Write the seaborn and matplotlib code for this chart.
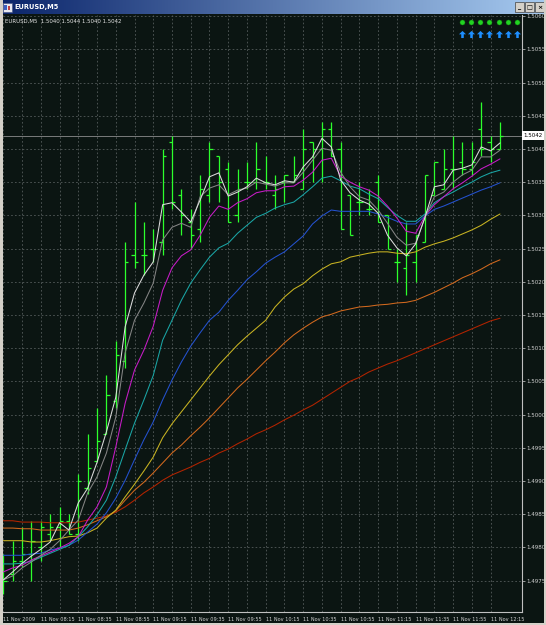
import numpy as np
import pandas as pd
import matplotlib.pyplot as plt
import seaborn as sns
from matplotlib.patches import Rectangle
from matplotlib.path import Path
from matplotlib.colors import LinearSegmentedColormap
import matplotlib.transforms as mtransforms

# EURUSD M5 bars, 07:55 .. 12:20 on 11 Nov 2009 (first bar is cut by the left edge)
times = pd.date_range("2009-11-11 07:55", periods=54, freq="5min")

bar_open = [1.4974, 1.4976, 1.4978, 1.4979, 1.4980, 1.4982, 1.4983, 1.4984, 1.4982, 1.4989,
            1.4993, 1.4997, 1.5002, 1.5008, 1.5024, 1.5024, 1.5025, 1.5026, 1.5041, 1.5033,
            1.5029, 1.5028, 1.5033, 1.5039, 1.5037, 1.5030, 1.5035, 1.5035, 1.5035, 1.5033,
            1.5035, 1.5035, 1.5034, 1.5041, 1.5040, 1.5043, 1.5040, 1.5033, 1.5032, 1.5031,
            1.5035, 1.5030, 1.5023, 1.5022, 1.5023, 1.5026, 1.5033, 1.5034, 1.5037, 1.5038,
            1.5037, 1.5043, 1.5041, 1.5040]
bar_high = [1.4979, 1.4981, 1.4983, 1.4984, 1.4984, 1.4985, 1.4986, 1.4985, 1.4991, 1.4997,
            1.5001, 1.5006, 1.5011, 1.5026, 1.5032, 1.5029, 1.5028, 1.5040, 1.5042, 1.5034,
            1.5031, 1.5036, 1.5041, 1.5039, 1.5038, 1.5037, 1.5038, 1.5041, 1.5039, 1.5036,
            1.5036, 1.5039, 1.5043, 1.5041, 1.5044, 1.5044, 1.5041, 1.5033, 1.5035, 1.5034,
            1.5036, 1.5030, 1.5025, 1.5029, 1.5027, 1.5036, 1.5038, 1.5040, 1.5042, 1.5041,
            1.5041, 1.5047, 1.5042, 1.5044]
bar_low = [1.4973, 1.4975, 1.4977, 1.4975, 1.4978, 1.4981, 1.4980, 1.4982, 1.4981, 1.4988,
           1.4993, 1.4997, 1.5001, 1.5007, 1.5022, 1.5021, 1.5023, 1.5024, 1.5031, 1.5027,
           1.5025, 1.5026, 1.5032, 1.5032, 1.5029, 1.5029, 1.5034, 1.5034, 1.5034, 1.5031,
           1.5032, 1.5035, 1.5034, 1.5035, 1.5035, 1.5039, 1.5028, 1.5027, 1.5030, 1.5030,
           1.5029, 1.5025, 1.5020, 1.5018, 1.5020, 1.5026, 1.5033, 1.5034, 1.5034, 1.5036,
           1.5036, 1.5039, 1.5038, 1.5040]
bar_close = [1.4975, 1.4978, 1.4979, 1.4981, 1.4983, 1.4983, 1.4984, 1.4982, 1.4990, 1.4992,
             1.4996, 1.5003, 1.5009, 1.5023, 1.5023, 1.5024, 1.5025, 1.5039, 1.5032, 1.5030,
             1.5027, 1.5034, 1.5040, 1.5035, 1.5029, 1.5034, 1.5035, 1.5037, 1.5035, 1.5034,
             1.5036, 1.5036, 1.5040, 1.5040, 1.5043, 1.5039, 1.5028, 1.5027, 1.5032, 1.5031,
             1.5029, 1.5025, 1.5023, 1.5024, 1.5027, 1.5036, 1.5038, 1.5037, 1.5037, 1.5037,
             1.5038, 1.5040, 1.5040, 1.5042]

# moving averages as drawn on the chart
ma_white = [1.49751, 1.49763, 1.49776, 1.49787, 1.49797, 1.49808, 1.49837, 1.49826, 1.49867, 1.49889,
            1.49928, 1.49974, 1.50026, 1.50132, 1.50183, 1.50210, 1.50230, 1.50316, 1.50319, 1.50305,
            1.50290, 1.50323, 1.50358, 1.50364, 1.50329, 1.50335, 1.50343, 1.50356, 1.50349, 1.50346,
            1.50352, 1.50350, 1.50373, 1.50388, 1.50416, 1.50403, 1.50353, 1.50334, 1.50323, 1.50317,
            1.50303, 1.50270, 1.50251, 1.50239, 1.50257, 1.50297, 1.50343, 1.50346, 1.50368, 1.50371,
            1.50376, 1.50403, 1.50397, 1.50409]
ma_gray = [1.49751, 1.49757, 1.49769, 1.49778, 1.49788, 1.49797, 1.49810, 1.49826, 1.49841, 1.49882,
           1.49906, 1.49942, 1.49996, 1.50093, 1.50142, 1.50168, 1.50198, 1.50263, 1.50282, 1.50288,
           1.50282, 1.50328, 1.50341, 1.50346, 1.50331, 1.50338, 1.50341, 1.50350, 1.50347, 1.50344,
           1.50349, 1.50349, 1.50365, 1.50383, 1.50401, 1.50398, 1.50365, 1.50343, 1.50328, 1.50323,
           1.50308, 1.50288, 1.50267, 1.50255, 1.50258, 1.50297, 1.50328, 1.50335, 1.50350, 1.50361,
           1.50368, 1.50388, 1.50388, 1.50398]
ma_magenta = [1.49763, 1.49769, 1.49773, 1.49781, 1.49787, 1.49793, 1.49799, 1.49806, 1.49816, 1.49841,
              1.49861, 1.49891, 1.49951, 1.50017, 1.50067, 1.50097, 1.50133, 1.50187, 1.50221, 1.50239,
              1.50248, 1.50270, 1.50297, 1.50314, 1.50309, 1.50319, 1.50325, 1.50334, 1.50337, 1.50337,
              1.50343, 1.50344, 1.50353, 1.50365, 1.50383, 1.50386, 1.50359, 1.50350, 1.50343, 1.50338,
              1.50329, 1.50314, 1.50296, 1.50276, 1.50273, 1.50299, 1.50316, 1.50328, 1.50340, 1.50349,
              1.50359, 1.50370, 1.50377, 1.50385]
ma_cyan = [1.49775, 1.49775, 1.49776, 1.49779, 1.49785, 1.49791, 1.49797, 1.49803, 1.49816, 1.49831,
           1.49849, 1.49871, 1.49906, 1.49947, 1.49987, 1.50022, 1.50059, 1.50112, 1.50142, 1.50172,
           1.50198, 1.50218, 1.50237, 1.50251, 1.50258, 1.50273, 1.50285, 1.50297, 1.50303, 1.50311,
           1.50316, 1.50320, 1.50331, 1.50343, 1.50356, 1.50359, 1.50352, 1.50344, 1.50340, 1.50332,
           1.50325, 1.50312, 1.50300, 1.50291, 1.50291, 1.50302, 1.50319, 1.50328, 1.50335, 1.50343,
           1.50350, 1.50358, 1.50364, 1.50368]
ma_blue = [1.49788, 1.49788, 1.49788, 1.49790, 1.49791, 1.49796, 1.49799, 1.49803, 1.49811, 1.49823,
           1.49835, 1.49852, 1.49874, 1.49901, 1.49932, 1.49962, 1.49989, 1.50022, 1.50052, 1.50079,
           1.50103, 1.50123, 1.50142, 1.50154, 1.50172, 1.50187, 1.50203, 1.50215, 1.50228, 1.50237,
           1.50245, 1.50257, 1.50269, 1.50287, 1.50299, 1.50308, 1.50306, 1.50306, 1.50306, 1.50306,
           1.50302, 1.50297, 1.50291, 1.50287, 1.50287, 1.50299, 1.50309, 1.50314, 1.50320, 1.50326,
           1.50332, 1.50338, 1.50343, 1.50349]
ma_yellow = [1.49810, 1.49810, 1.49810, 1.49808, 1.49808, 1.49810, 1.49813, 1.49816, 1.49817, 1.49822,
             1.49829, 1.49844, 1.49856, 1.49876, 1.49895, 1.49915, 1.49936, 1.49965, 1.49986, 1.50004,
             1.50022, 1.50040, 1.50058, 1.50075, 1.50090, 1.50105, 1.50118, 1.50130, 1.50142, 1.50162,
             1.50177, 1.50189, 1.50197, 1.50209, 1.50219, 1.50227, 1.50230, 1.50237, 1.50240, 1.50243,
             1.50245, 1.50245, 1.50243, 1.50242, 1.50245, 1.50252, 1.50257, 1.50261, 1.50266, 1.50272,
             1.50278, 1.50285, 1.50294, 1.50302]
ma_orange = [1.49829, 1.49829, 1.49828, 1.49828, 1.49826, 1.49826, 1.49826, 1.49826, 1.49829, 1.49834,
             1.49840, 1.49846, 1.49855, 1.49871, 1.49886, 1.49898, 1.49912, 1.49927, 1.49942, 1.49954,
             1.49968, 1.49981, 1.49995, 1.50010, 1.50025, 1.50040, 1.50053, 1.50067, 1.50081, 1.50094,
             1.50108, 1.50120, 1.50130, 1.50139, 1.50147, 1.50151, 1.50156, 1.50159, 1.50162, 1.50163,
             1.50165, 1.50166, 1.50168, 1.50169, 1.50172, 1.50178, 1.50184, 1.50191, 1.50198, 1.50206,
             1.50212, 1.50219, 1.50227, 1.50233]
ma_red = [1.49840, 1.49840, 1.49838, 1.49838, 1.49838, 1.49837, 1.49837, 1.49837, 1.49838, 1.49841,
          1.49844, 1.49847, 1.49853, 1.49861, 1.49871, 1.49882, 1.49891, 1.49901, 1.49909, 1.49915,
          1.49921, 1.49928, 1.49934, 1.49942, 1.49948, 1.49956, 1.49963, 1.49971, 1.49977, 1.49984,
          1.49992, 1.49999, 1.50007, 1.50014, 1.50023, 1.50032, 1.50041, 1.50050, 1.50056, 1.50064,
          1.50070, 1.50076, 1.50081, 1.50087, 1.50093, 1.50099, 1.50105, 1.50111, 1.50117, 1.50123,
          1.50129, 1.50135, 1.50141, 1.50145]

price_levels = np.round(np.arange(14975, 15061, 5) / 10000, 4)

bg = "#0b1512"
bar_color = "#2cff2c"
ma_colors = {
    "red": "#b42400", "orange": "#d2691e", "yellow": "#c9b422", "blue": "#2452d0",
    "cyan": "#1aa6a6", "magenta": "#c81cc8", "gray": "#858585", "white": "#dcdcdc",
}

bars = pd.DataFrame({"time": times, "open": bar_open, "high": bar_high,
                     "low": bar_low, "close": bar_close})
bars["pos"] = np.arange(len(bars))

ma = pd.DataFrame({"pos": bars["pos"], "red": ma_red, "orange": ma_orange, "yellow": ma_yellow,
                   "blue": ma_blue, "cyan": ma_cyan, "magenta": ma_magenta,
                   "gray": ma_gray, "white": ma_white})
ma_long = ma.melt(id_vars="pos", var_name="ma", value_name="price")

sns.set_style("dark", {"axes.facecolor": bg, "figure.facecolor": bg})
plt.rcParams["font.family"] = ["DejaVu Sans"]

W, H = 546, 625
fig = plt.figure(figsize=(W / 100, H / 100), dpi=100)
fig.patch.set_facecolor(bg)

ax = fig.add_axes([3 / W, 13 / H, 519 / W, 597 / H])
ax.set_facecolor(bg)

# OHLC bars
ax.vlines(bars["pos"], bars["low"], bars["high"], color=bar_color, lw=0.9, zorder=2)
ax.hlines(bars["open"], bars["pos"] - 0.34, bars["pos"], color=bar_color, lw=0.9, zorder=2)
ax.hlines(bars["close"], bars["pos"], bars["pos"] + 0.34, color=bar_color, lw=0.9, zorder=2)

# moving averages
sns.lineplot(data=ma_long, x="pos", y="price", hue="ma", palette=ma_colors,
             hue_order=list(ma_colors.keys()), linewidth=0.75, legend=False,
             estimator=None, sort=False, ax=ax, zorder=3)

last = bars.iloc[-1]
ax.axhline(last["close"], color="#8c8c8c", lw=0.6, zorder=1)

ax.set_xlim(-0.035, 55.35)
ax.set_ylim(1.497026, 1.506017)

# axes, ticks and grid
tick_pos = bars["pos"][::4]
tick_lab = ["11 Nov 2009"] + ["11 Nov " + t.strftime("%H:%M") for t in bars["time"][4::4]]
ax.set_xticks(tick_pos)
ax.set_xticklabels(tick_lab)
ax.set_xticks(bars["pos"][2::4], minor=True)
ax.set_yticks(price_levels)
ax.set_yticklabels([f"{p:.4f}" for p in price_levels])
ax.yaxis.tick_right()
ax.set_xlabel("")
ax.set_ylabel("")

grid_kw = dict(color="#5b6262", lw=0.55, ls=(0, (2.2, 2.8)))
ax.grid(True, which="both", axis="x", **grid_kw)
ax.grid(True, which="major", axis="y", **grid_kw)
ax.set_axisbelow(True)

ax.tick_params(axis="x", which="major", labelsize=3.6, colors="#d2d2d2", length=2.5,
               width=0.5, pad=1.0)
ax.tick_params(axis="x", which="minor", length=0)
ax.tick_params(axis="y", labelsize=4.0, colors="#d2d2d2", length=2, width=0.5, pad=1.0)
for lab in ax.get_xticklabels():
    lab.set_horizontalalignment("left")

for side in ["left", "top"]:
    ax.spines[side].set_visible(False)
for side in ["right", "bottom"]:
    ax.spines[side].set_color("#c0c0c0")
    ax.spines[side].set_linewidth(0.8)

# current price marker on the price scale
trans = mtransforms.blended_transform_factory(ax.transAxes, ax.transData)
ax.text(1.003, last["close"], f"{last['close']:.4f}", transform=trans, ha="left", va="center",
        fontsize=4.0, color="black", clip_on=False, zorder=5,
        bbox=dict(boxstyle="square,pad=0.35", fc="white", ec="none"))

# symbol / last bar info
info = "EURUSD,M5  {:.4f} {:.4f} {:.4f} {:.4f}".format(last["open"], last["high"], last["low"], last["close"])
ax.text(0.004, 0.993, info, transform=ax.transAxes, ha="left", va="top",
        fontsize=3.9, color="#e6e6e6", zorder=6)

# signal icons in the top right corner
n_sig = 7
sig_x = 0.8839 + np.arange(n_sig) * 0.01775
ax.scatter(sig_x, [0.9888] * n_sig, s=13, color="#22d422", edgecolor="#118811", lw=0.3,
           transform=ax.transAxes, clip_on=False, zorder=6)
arrow = Path([(-1, 0.05), (0, 1), (1, 0.05), (0.36, 0.05), (0.36, -1), (-0.36, -1),
              (-0.36, 0.05), (-1, 0.05)])
ax.scatter(sig_x, [0.9690] * n_sig, s=26, marker=arrow, color="#1e8fff", lw=0,
           transform=ax.transAxes, clip_on=False, zorder=6)

# window chrome: title bar, buttons, borders
tb = fig.add_axes([0, 1 - 14 / H, 1, 14 / H])
tb.imshow(np.linspace(0, 1, 256)[None, :], aspect="auto", extent=[0, W, 14, 0],
          cmap=LinearSegmentedColormap.from_list("tb", ["#0a246a", "#a6caf0"]))
tb.set_xlim(0, W)
tb.set_ylim(14, 0)
tb.axis("off")
tb.add_patch(Rectangle((2.5, 2.5), 9, 9, fc="#e8e8f0", ec="#405080", lw=0.4))
tb.add_patch(Rectangle((4, 4.5), 3, 5, fc="#4060c0", ec="none"))
tb.add_patch(Rectangle((7.5, 6), 2.5, 3.5, fc="#c04040", ec="none"))
tb.text(14, 7.2, "EURUSD,M5", color="white", fontsize=4.8, fontweight="bold",
        ha="left", va="center")
for bx, sym in [(515, "_"), (524.5, "□"), (535, "×")]:
    tb.add_patch(Rectangle((bx, 2), 9, 10, fc="#d4d0c8", ec="#404040", lw=0.5))
    tb.text(bx + 4.5, 7.3, sym, fontsize=4.5, color="black", ha="center", va="center",
            fontweight="bold")

fig.patches.append(Rectangle((0, 0), 2.5 / W, 1, transform=fig.transFigure,
                             fc="#d4d0c8", ec="none"))
fig.patches.append(Rectangle((2.5 / W, 0), 0.8 / W, 1 - 14 / H, transform=fig.transFigure,
                             fc="#f0f0f0", ec="none"))
fig.patches.append(Rectangle((544 / W, 0), 2 / W, 1, transform=fig.transFigure,
                             fc="#d4d0c8", ec="none"))
fig.patches.append(Rectangle((0, 0), 1, 2 / H, transform=fig.transFigure,
                             fc="#d4d0c8", ec="none"))

fig.savefig("out.png", dpi=100, facecolor=fig.get_facecolor())
plt.close(fig)
